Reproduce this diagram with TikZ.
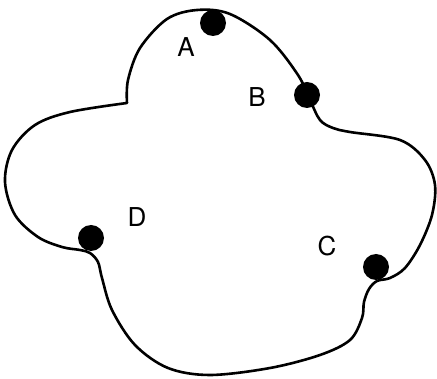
\documentclass[tikz,border=0pt]{standalone}
\usepackage{fontspec}
\setmainfont{TeX Gyre Heros}
\begin{document}
\begin{tikzpicture}[x=1pt,y=-1pt,
  outline/.style={line width=2.6pt,line join=round,line cap=round},
  dot/.style={circle,fill=black,inner sep=0pt,minimum size=26pt},
  lbl/.style={inner sep=0pt,font=\fontsize{26}{26}\selectfont}]
\useasboundingbox (0,0) rectangle (437,379);
\draw[outline] plot[smooth,tension=0.55] coordinates {
 (127,103) (128,80) (140,48) (167,19) (197,10) (230,14) (270,40) (298,75) (310,100)
 (320,120) (333,128) (350,132) (400,140) (425,160) (435,185) (432,215) (420,245)
 (405,268) (390,278) (377,281) (369,289) (364,302) (362,318) (350,340) (320,355)
 (270,368) (210,375) (168,368) (135,345) (112,310) (102,278) (98,262) (90,253)
 (80,250) (62,247) (38,237) (15,215) (5,182) (12,150) (35,125) (70,112) (127,103)};
\node[dot] (a) at (213,23) {};
\node[dot] (b) at (307,95) {};
\node[dot] (c) at (376,267) {};
\node[dot] (d) at (91,238) {};
\node[lbl] (la) at (186,47) {A};
\node[lbl] (lb) at (257,97) {B};
\node[lbl] (lc) at (327,246) {C};
\node[lbl] (ld) at (137,217) {D};
\end{tikzpicture}
\end{document}
